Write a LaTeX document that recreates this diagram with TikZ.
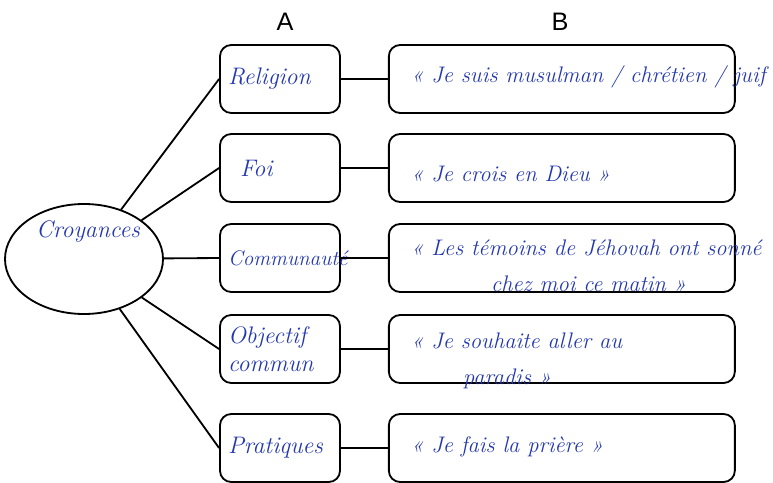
\documentclass[tikz,border=0pt]{standalone}
\usepackage{fontspec}
\newfontfamily\headfont{Liberation Sans}
\usetikzlibrary{shapes, positioning, calc}
\definecolor{ink}{RGB}{35,55,175}
\tikzset{category box/.style={draw=black, rounded corners=8pt, line width=1.3pt, minimum width=3cm, minimum height=1.7cm, text width=2.6cm, inner xsep=0.2cm, align=left, text=ink, font=\fontsize{17}{20}\selectfont\itshape}}
\tikzset{quote box/.style={draw=black, rounded corners=8pt, line width=1.3pt, minimum width=8.65cm, minimum height=1.7cm}}
\tikzset{quote text/.style={anchor=west, inner sep=0pt, align=left, text=ink, font=\fontsize{16}{26}\selectfont\itshape}}
\tikzset{link/.style={draw=black, line width=1.3pt}}

\begin{document}
\begin{tikzpicture}[node distance=1.175cm]
\useasboundingbox (0,0) rectangle (19.325,-12.075);
\node[font=\fontsize{18}{20}\selectfont\headfont] (colA) at (7.125,-0.55) {A};
\node[font=\fontsize{18}{20}\selectfont\headfont] (colB) at (14,-0.55) {B};
\node[draw=black, ellipse, line width=1.3pt, minimum width=3.95cm, minimum height=2.75cm] (croy) at (2.1,-6.475) {};
\node[text=ink, font=\fontsize{17}{18}\selectfont\itshape] (croytxt) at (2.2,-5.8) {Croyances};
\node[category box] (relig) at (7,-1.975) {Religion};
\node[category box] (foi) at (7,-4.2) {\hspace{0.3cm}Foi};
\node[category box, font=\fontsize{15}{17}\selectfont\itshape] (commu) at (7,-6.45) {Communauté};
\node[category box] (objec) at (7,-8.725) {Objectif\\commun};
\node[category box] (prati) at (7,-11.2) {Pratiques};
\node[quote box, right=of relig] (qrelig) {};
\node[quote box, right=of foi] (qfoi) {};
\node[quote box, right=of commu] (qcommu) {};
\node[quote box, right=of objec] (qobjec) {};
\node[quote box, right=of prati] (qprati) {};
\node[quote text] (trelig) at ($(qrelig.west)+(0.575,0.05)$) {« Je suis musulman / chrétien / juif};
\node[quote text] (tfoi) at ($(qfoi.west)+(0.575,-0.15)$) {« Je crois en Dieu »};
\node[quote text] (tcommu) at ($(qcommu.west)+(0.575,-0.2)$) {« Les témoins de Jéhovah ont sonné\\\hspace{2cm}chez moi ce matin »};
\node[quote text] (tobjec) at ($(qobjec.west)+(0.575,-0.3)$) {« Je souhaite aller au\\\hspace{1.3cm}paradis »};
\node[quote text] (tprati) at ($(qprati.west)+(0.575,0.02)$) {« Je fais la prière »};
\foreach \n in {relig, foi, commu, objec, prati}
  \draw[link] (croy) -- (\n.west);
\foreach \n in {relig, foi, commu, objec, prati}
  \draw[link] (\n) -- (q\n);
\end{tikzpicture}
\end{document}
